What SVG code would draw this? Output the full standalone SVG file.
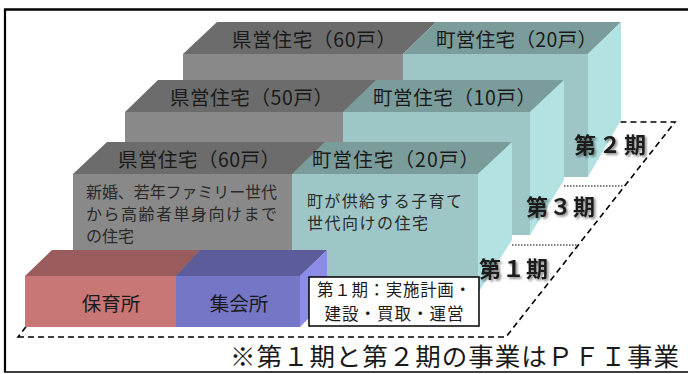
<svg xmlns="http://www.w3.org/2000/svg" width="688" height="374" viewBox="0 0 688 374">
<style>
text{font-family:"Noto Sans CJK JP","Noto Sans",sans-serif;fill:#1a1a1a}
.gt{fill:#6c6c6c}.gf{fill:#898989}
.tt{fill:#7a9c9a}.tf{fill:#9ec6c6}.ts{fill:#b2e2e2}
.lbl{font-size:19.5px}
.desc{font-size:16px;fill:#2a2a2a}
.phase{font-size:22px;font-weight:bold;filter:url(#shd)}
.dash{fill:none;stroke:#000;stroke-width:1.6;stroke-dasharray:6 4}
.dot{fill:none;stroke:#000;stroke-width:1.2;stroke-dasharray:1.5 1.5}
</style>
<defs>
<filter id="shd" x="-10%" y="-20%" width="130%" height="150%">
<feDropShadow dx="1.8" dy="1.8" stdDeviation="0.8" flood-color="#000" flood-opacity="0.45"/>
</filter>
</defs>
<rect width="688" height="374" fill="#fff"/>
<g id="frame" stroke="#000" fill="none">
<line x1="4" y1="9.5" x2="688" y2="9.5" stroke-width="2.5"/>
<line x1="5" y1="9" x2="5" y2="372" stroke-width="2.2"/>
<line x1="4" y1="372" x2="688" y2="372" stroke-width="1.5"/>
</g>
<g id="guides">
<polygon class="dash" points="18,337 506,337 675,122 187,122"/>
<line class="dot" x1="564" y1="186" x2="624" y2="186"/>
<line class="dot" x1="512" y1="245" x2="577" y2="245"/>
</g>
<g id="block-back">
<polygon class="gt" points="217,22 436,22 403,54 183,54"/>
<polygon class="tt" points="436,22 621,22 588,54 403,54"/>
<rect class="gf" x="183" y="54" width="220" height="123"/>
<rect class="tf" x="403" y="54" width="185" height="123"/>
<polygon class="ts" points="588,54 621,22 621,120 588,177"/>
<text class="lbl" x="232" y="47" textLength="164" lengthAdjust="spacing">県営住宅（60戸）</text>
<text class="lbl" x="436" y="47" textLength="161" lengthAdjust="spacing">町営住宅（20戸）</text>
</g>
<g id="block-middle">
<polygon class="gt" points="158,80 376,80 343,112 125,112"/>
<polygon class="tt" points="376,80 564,80 530,112 343,112"/>
<rect class="gf" x="125" y="112" width="218" height="123"/>
<rect class="tf" x="343" y="112" width="187" height="123"/>
<polygon class="ts" points="530,112 564,80 564,180 530,235"/>
<text class="lbl" x="170" y="105" textLength="163" lengthAdjust="spacing">県営住宅（50戸）</text>
<text class="lbl" x="373" y="105" textLength="163" lengthAdjust="spacing">町営住宅（10戸）</text>
</g>
<g id="block-front">
<polygon class="gt" points="107,142 325,142 292,174 73,174"/>
<polygon class="tt" points="325,142 512,142 478,174 292,174"/>
<rect class="gf" x="73" y="174" width="219" height="119"/>
<rect class="tf" x="292" y="174" width="186" height="119"/>
<polygon class="ts" points="478,174 512,142 512,240 478,293"/>
<text class="lbl" x="118" y="167" textLength="162" lengthAdjust="spacing">県営住宅（60戸）</text>
<text class="lbl" x="312" y="167" textLength="167" lengthAdjust="spacing">町営住宅（20戸）</text>
<text class="desc" x="86" y="198" textLength="191" lengthAdjust="spacing">新婚、若年ファミリー世代</text>
<text class="desc" x="86" y="220" textLength="191" lengthAdjust="spacing">から高齢者単身向けまで</text>
<text class="desc" x="86" y="242">の住宅</text>
<text class="desc" x="307" y="207" textLength="155" lengthAdjust="spacing">町が供給する子育て</text>
<text class="desc" x="307" y="229" textLength="121" lengthAdjust="spacing">世代向けの住宅</text>
</g>
<g id="facility-nursery">
<polygon fill="#9a5c5c" points="52,250 200,250 176,276 25,276"/>
<rect fill="#c87676" x="25" y="276" width="151" height="51"/>
<text x="111" y="311" font-size="19.5" text-anchor="middle">保育所</text>
</g>
<g id="facility-hall">
<polygon fill="#5c5c9a" points="200,250 327,250 300,276 176,276"/>
<rect fill="#7676c6" x="176" y="276" width="124" height="51"/>
<polygon fill="#8c8ce8" points="300,276 327,250 327,300 300,327"/>
<text x="239" y="311" font-size="19.5" text-anchor="middle">集会所</text>
</g>
<g id="phase1-note">
<rect x="309" y="277" width="170" height="49" fill="#fff" stroke="#000" stroke-width="1.5"/>
<text x="394" y="296" font-size="16.5" text-anchor="middle" textLength="154" lengthAdjust="spacing">第１期：実施計画・</text>
<text x="394" y="320" font-size="16.5" text-anchor="middle" textLength="139" lengthAdjust="spacing">建設・買取・運営</text>
</g>
<g id="phase-labels">
<text class="phase" x="574" y="153" textLength="72" lengthAdjust="spacing">第２期</text>
<text class="phase" x="526" y="215" textLength="69" lengthAdjust="spacing">第３期</text>
<text class="phase" x="479" y="277" textLength="69" lengthAdjust="spacing">第１期</text>
</g>
<g id="footnote">
<text x="230" y="366" font-size="25.5" textLength="449" lengthAdjust="spacing">※第１期と第２期の事業はＰＦＩ事業</text>
</g>
</svg>
